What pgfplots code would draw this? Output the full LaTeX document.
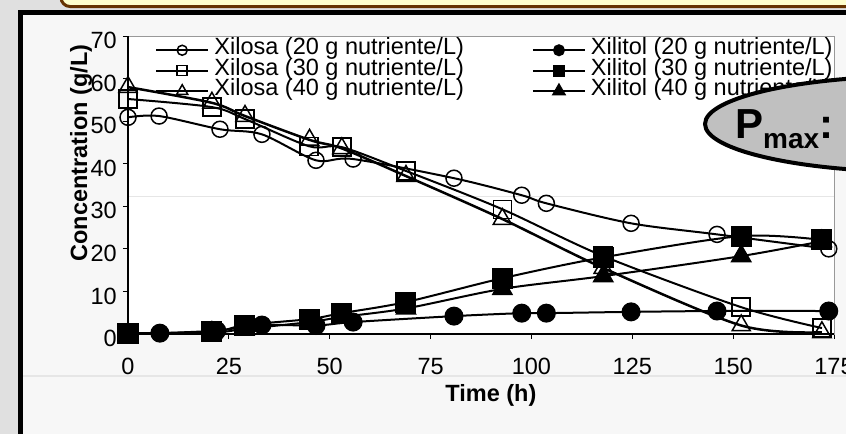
\documentclass[border=0pt]{standalone}
\usepackage{pgfplots}
\pgfplotsset{compat=1.18}
\usepackage{fontspec}
\setmainfont{Liberation Sans}
\definecolor{slidebg}{HTML}{F7F7F7}
\definecolor{outerbg}{HTML}{E0E0E0}
\definecolor{boxfill}{HTML}{FFFFCC}
\definecolor{boxdraw}{HTML}{663300}
\definecolor{framegray}{HTML}{999999}
\definecolor{faint}{HTML}{E6E6E6}
\definecolor{ellfill}{HTML}{C0C0C0}
\newcommand\chartfont{\fontsize{23.5bp}{26bp}\selectfont}

\begin{document}
\begin{tikzpicture}
\path[use as bounding box] (0,0) rectangle (846bp,-434bp);
\clip (0,0) rectangle (846bp,-434bp);
\fill[outerbg] (0,0) rectangle (846bp,-434bp);
\filldraw[fill=boxfill, draw=boxdraw, line width=3bp, rounded corners=9bp] (61bp,20bp) rectangle (900bp,-6.5bp);
\filldraw[fill=slidebg, draw=black, line width=5bp] (20.5bp,-12.5bp) rectangle (900bp,-460bp);
\draw[faint, line width=1.5bp] (23bp,-376bp) -- (846bp,-376bp);
\begin{axis}[
  at={(128bp,-334bp)}, anchor=south west,
  scale only axis, width=706bp, height=298bp,
  xmin=0, xmax=175, ymin=0, ymax=70,
  xtick={0,25,...,175}, ytick={0,10,...,70},
  clip=false,
  axis background/.style={fill=white},
  axis line style={draw=framegray, line width=1bp},
  tick align=outside, xtick pos=bottom, ytick pos=left,
  major tick length=5bp,
  tick style={black, line width=1bp},
  /pgf/number format/assume math mode=true,
  tick label style={font=\chartfont},
  xticklabel style={inner sep=0pt, anchor=north, yshift=-19bp},
  yticklabel style={inner sep=0pt, anchor=east, xshift=-6bp, yshift=-4.5bp},
  xlabel={Time (h)},
  ylabel={Concentration (g/L)},
  every axis x label/.style={at={(axis description cs:0.514,-0.2047)}, anchor=center, font=\chartfont\bfseries},
  every axis y label/.style={at={(axis description cs:-0.0666,0.607)}, anchor=center, rotate=90, font=\chartfont\bfseries},
  legend columns=2,
  legend cell align=left,
  legend style={draw=none, fill=none, at={(rel axis cs:0.0382,0.9866)}, anchor=north west,
    inner sep=0pt, outer sep=0pt, font=\chartfont,
    nodes={inner sep=0pt, text height=15bp, text depth=5.5bp},
    column sep=5bp, /tikz/every even column/.append style={column sep=68bp}},
  legend image code/.code={\draw[mark repeat=2,mark phase=2,#1] plot coordinates {(0bp,0bp) (26bp,0bp) (52bp,0bp)};},
]
\draw[faint, line width=1bp] (rel axis cs:0,0.463) -- (rel axis cs:1,0.463);
\draw[black, line width=1.2bp] (rel axis cs:0,1) -- (rel axis cs:0,0) -- (rel axis cs:1,0);

% Xilosa 20
\addplot[black, line width=2bp, smooth, mark=o, mark size=8bp, mark options={fill=white, line width=1.5bp}, legend image post style={mark size=5bp}]
 coordinates {(0,50.9) (7.7,51.2) (22.8,48.1) (33.2,46.9) (46.6,40.8) (55.8,41.1) (80.8,36.6) (97.6,32.6) (103.7,30.7) (124.7,26.0) (146,23.4) (173.7,20.0)};
\addlegendentry{Xilosa (20 g nutriente/L)}
% Xilitol 20
\addplot[black, line width=2bp, smooth, mark=*, mark size=8.5bp, mark options={fill=black}, legend image post style={mark size=5bp}]
 coordinates {(0,0) (7.9,0.2) (22,0.8) (33.2,2.1) (46.6,2.0) (55.8,2.8) (80.8,4.2) (97.6,4.9) (103.7,4.9) (124.7,5.2) (146,5.4) (173.7,5.4)};
\addlegendentry{Xilitol (20 g nutriente/L)}
% Xilosa 30
\addplot[black, line width=2bp, smooth, mark=square, mark size=9bp, mark options={fill=white, line width=1.5bp}, legend image post style={mark size=5bp}]
 coordinates {(0,55.2) (20.8,53.3) (29,50.5) (44.9,44.1) (53,43.9) (68.9,38.3) (92.8,29.3) (117.8,18.3) (152,6.3) (172,1.4)};
\addlegendentry{Xilosa (30 g nutriente/L)}
% Xilitol 30
\addplot[black, line width=2bp, smooth, mark=square*, mark size=9.5bp, mark options={fill=black}, legend image post style={mark size=5bp}]
 coordinates {(0,0.2) (20.8,0.5) (29,2.1) (44.9,3.5) (53,4.9) (68.9,7.5) (92.8,13.1) (117.8,18.0) (152,23.0) (172,22.1)};
\addlegendentry{Xilitol (30 g nutriente/L)}
% Xilosa 40
\addplot[black, line width=2.5bp, smooth, mark=triangle, mark size=10.5bp, mark options={fill=white, line width=1.5bp}, legend image post style={mark size=6.5bp}]
 coordinates {(0,58.0) (20.8,54.3) (29,51.2) (45,45.6) (53,43.6) (68.9,37.1) (92.8,27.0) (117.8,15.5) (152,2.0) (172,0.4)};
\addlegendentry{Xilosa (40 g nutriente/L)}
% Xilitol 40
\addplot[black, line width=2bp, smooth, mark=triangle*, mark size=10.5bp, mark options={fill=black}, legend image post style={mark size=6.5bp}]
 coordinates {(0,0) (20.8,0.3) (29,1.2) (45,2.8) (53,4.0) (68.9,6.0) (92.8,10.6) (117.8,13.6) (152,18.3) (172,21.8)};
\addlegendentry{Xilitol (40 g nutriente/L)}
\end{axis}
\filldraw[fill=ellfill, draw=black, line width=4bp] (920bp,-124bp) ellipse [x radius=215bp, y radius=48bp];
\node[anchor=base west, inner sep=0pt] at (735bp,-138bp) {\fontsize{42bp}{42bp}\selectfont\bfseries P\raisebox{-10bp}{\fontsize{28bp}{28bp}\selectfont max}:};
\end{tikzpicture}
\end{document}
